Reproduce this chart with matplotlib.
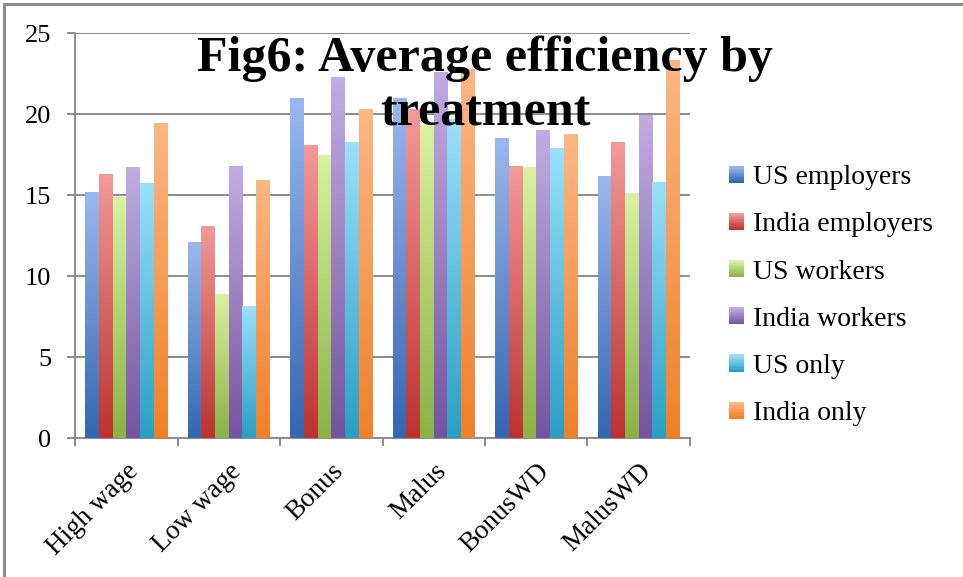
import numpy as np
import matplotlib
matplotlib.use("Agg")
import matplotlib.pyplot as plt
from matplotlib.colors import LinearSegmentedColormap
from matplotlib.patches import Rectangle
from matplotlib.legend_handler import HandlerBase

plt.rcParams['font.family'] = ['Liberation Serif', 'DejaVu Serif']

# --- data ---
treatments = ['High wage', 'Low wage', 'Bonus', 'Malus', 'BonusWD', 'MalusWD']
us_employers = [15.2, 12.1, 21.0, 21.0, 18.5, 16.2]
india_employers = [16.3, 13.1, 18.1, 20.3, 16.8, 18.3]
us_workers = [14.9, 8.9, 17.45, 19.3, 16.7, 15.1]
india_workers = [16.7, 16.8, 22.3, 22.6, 19.0, 19.95]
us_only = [15.75, 8.15, 18.3, 19.7, 17.9, 15.8]
india_only = [19.45, 15.95, 20.3, 22.8, 18.75, 23.35]

series = [
    ('US employers', us_employers, '#9ab8ee', '#3466b2'),
    ('India employers', india_employers, '#f29a98', '#bd3230'),
    ('US workers', us_workers, '#d8f2a2', '#8ab244'),
    ('India workers', india_workers, '#c0ade3', '#76539f'),
    ('US only', us_only, '#9be0fb', '#2a9fc2'),
    ('India only', india_only, '#fbb784', '#f0802a'),
]

grey = '#8c8c8c'


class GradHandler(HandlerBase):
    # legend square with the same top-light / bottom-dark shading as the bars
    def create_artists(self, legend, orig_handle, xdescent, ydescent, width, height, fontsize, trans):
        cmap = orig_handle.cmap
        n = 12
        arts = []
        for k in range(n):
            r = Rectangle((-xdescent, -ydescent + height * k / n), width, height / n + 0.3,
                          facecolor=cmap(k / (n - 1)), edgecolor='none', transform=trans)
            arts.append(r)
        return arts


fig = plt.figure(figsize=(9.63, 5.77), dpi=100)
ax = fig.add_axes([0.0779, 0.2409, 0.7165 - 0.0779, 0.9428 - 0.2409])

x = np.arange(len(treatments))
w = 1 / 7.5
grad = np.linspace(1, 0, 256).reshape(-1, 1)

handles = []
for j, (name, vals, top, bottom) in enumerate(series):
    cmap = LinearSegmentedColormap.from_list(name, [bottom, top])
    bars = ax.bar(x + (j - 2.5) * w, vals, width=w, color=top, edgecolor='none', zorder=2)
    for b in bars:
        x0, y0 = b.get_x(), b.get_y()
        im = ax.imshow(grad, cmap=cmap, aspect='auto', zorder=3,
                       extent=[x0, x0 + b.get_width(), y0, y0 + b.get_height()])
        im.set_clip_path(b)
    h = Rectangle((0, 0), 1, 1, facecolor=cmap(0.55), edgecolor='none')
    h.cmap = cmap
    handles.append(h)

ax.set_xlim(-0.5, len(treatments) - 0.5)
ax.set_ylim(0, 25)
ax.set_yticks(range(0, 26, 5))
ax.yaxis.grid(True, color=grey, linewidth=1.4, zorder=0)
ax.set_axisbelow(True)

for s in ['top', 'right']:
    ax.spines[s].set_visible(False)
for s in ['left', 'bottom']:
    ax.spines[s].set_color(grey)
    ax.spines[s].set_linewidth(1.4)

ax.tick_params(axis='y', length=6, width=1.4, color=grey, labelsize=19, pad=11)
ax.set_xticks(x)
ax.set_xticklabels(treatments, rotation=45, ha='right', rotation_mode='anchor', fontsize=19.5)
ax.tick_params(axis='x', which='major', length=0, pad=15)
ax.set_xticks(np.arange(-0.5, len(treatments), 1), minor=True)
ax.tick_params(axis='x', which='minor', length=6, width=1.4, color=grey)

fig.text(0.5036, 1 - 71 / 577, 'Fig6: Average efficiency by', ha='center', va='baseline',
         fontsize=36, fontweight='bold', zorder=10)
fig.text(0.5036, 1 - 126 / 577, 'treatment', ha='center', va='baseline',
         fontsize=36, fontweight='bold', zorder=10)

fig.legend(handles, [s[0] for s in series], loc='upper left',
           bbox_to_anchor=(0.731, 0.757), frameon=False, fontsize=20,
           handlelength=0.55, handleheight=0.55, handletextpad=0.3, labelspacing=0.8,
           handler_map={Rectangle: GradHandler()})

fig.patches.append(Rectangle((4 / 963, -0.1), 1.2, 1 - 4 / 577 + 0.1, transform=fig.transFigure,
                             fill=False, edgecolor=grey, linewidth=2.2))

fig.savefig('out.png', dpi=100)
